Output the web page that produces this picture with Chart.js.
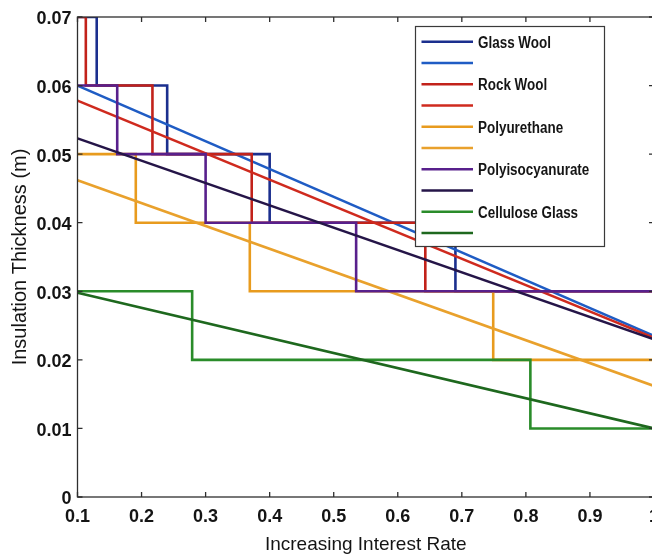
<!DOCTYPE html>
<html>
<head>
<meta charset="utf-8">
<script src="https://cdn.jsdelivr.net/npm/chart.js@4/dist/chart.umd.min.js"></script>
<style>
  html, body { margin: 0; padding: 0; background: #fff; overflow: hidden; }
  #c { display: block; }
</style>
</head>
<body>
<canvas id="c" width="668" height="559" style="width:668px;height:559px"></canvas>
<script>
// Axis tick values and their printed labels
const xTickValues = [0.1, 0.2, 0.3, 0.4, 0.5, 0.6, 0.7, 0.8, 0.9, 1.0];
const xTickLabels = ['0.1', '0.2', '0.3', '0.4', '0.5', '0.6', '0.7', '0.8', '0.9', '1'];
const yTickValues = [0, 0.01, 0.02, 0.03, 0.04, 0.05, 0.06, 0.07];
const yTickLabels = ['0', '0.01', '0.02', '0.03', '0.04', '0.05', '0.06', '0.07'];

// Ends of the interest-rate range used by the continuous curves
const rateEnds = [0.1, 1.0];

// Stepped thickness (m): rate where each step starts, thickness held from there on
const glassWoolRates = [0.1, 0.13, 0.24, 0.40, 0.69, 1.0];
const glassWoolSteps = [0.07, 0.06, 0.05, 0.04, 0.03, 0.03];
const rockWoolRates = [0.1, 0.113, 0.217, 0.372, 0.643, 1.0];
const rockWoolSteps = [0.07, 0.06, 0.05, 0.04, 0.03, 0.03];
const polyurethaneRates = [0.1, 0.191, 0.369, 0.749, 1.0];
const polyurethaneSteps = [0.05, 0.04, 0.03, 0.02, 0.02];
const polyisoRates = [0.1, 0.162, 0.300, 0.535, 1.0];
const polyisoSteps = [0.06, 0.05, 0.04, 0.03, 0.03];
const celluloseRates = [0.1, 0.279, 0.807, 1.0];
const celluloseSteps = [0.03, 0.02, 0.01, 0.01];

// Continuous optimum thickness (m) at the two ends of the rate range
const glassWoolCurve = [0.0600, 0.0235];
const rockWoolCurve = [0.0578, 0.0232];
const polyurethaneCurve = [0.0462, 0.0162];
const polyisoCurve = [0.0523, 0.0230];
const celluloseCurve = [0.0298, 0.0100];

const pts = (xs, ys) => xs.map((x, i) => ({ x, y: ys[i] }));

// Each step value is held until the next rate, then drops vertically
function stepSet(label, xs, ys, color) {
  return { label, data: pts(xs, ys), borderColor: color, stepped: 'before',
           borderWidth: 2.6, pointRadius: 0, fill: false };
}
function curveSet(ys, color) {
  return { label: '', data: pts(rateEnds, ys), borderColor: color,
           borderWidth: 2.6, pointRadius: 0, fill: false, tension: 0 };
}

const datasets = [
  stepSet('Glass Wool', glassWoolRates, glassWoolSteps, '#1b2f8e'),
  curveSet(glassWoolCurve, '#1f5cc4'),
  stepSet('Rock Wool', rockWoolRates, rockWoolSteps, '#c2221a'),
  curveSet(rockWoolCurve, '#cf2a1e'),
  stepSet('Polyurethane', polyurethaneRates, polyurethaneSteps, '#e89b1e'),
  curveSet(polyurethaneCurve, '#e9a12c'),
  stepSet('Polyisocyanurate', polyisoRates, polyisoSteps, '#58208c'),
  curveSet(polyisoCurve, '#251548'),
  stepSet('Cellulose Glass', celluloseRates, celluloseSteps, '#2a8c2a'),
  curveSet(celluloseCurve, '#1e681e')
];
// Later series are painted over earlier ones
datasets.forEach((ds, i) => { ds.order = -i; });

// Box around the plot with inward tick marks on all four sides
const boxAxes = {
  id: 'boxAxes',
  afterDatasetsDraw(chart) {
    const { ctx, chartArea: { left, right, top, bottom }, scales: { x, y } } = chart;
    ctx.save();
    ctx.strokeStyle = '#2e2e2e';
    ctx.lineWidth = 1.3;
    ctx.strokeRect(left, top, right - left, bottom - top);
    ctx.beginPath();
    xTickValues.forEach(v => {
      const px = x.getPixelForValue(v);
      ctx.moveTo(px, bottom); ctx.lineTo(px, bottom - 5);
      ctx.moveTo(px, top); ctx.lineTo(px, top + 5);
    });
    yTickValues.forEach(v => {
      const py = y.getPixelForValue(v);
      ctx.moveTo(left, py); ctx.lineTo(left + 5, py);
      ctx.moveTo(right, py); ctx.lineTo(right - 5, py);
    });
    ctx.stroke();
    ctx.restore();
  }
};

// Boxed legend inside the plot, one row per dataset
const boxLegend = {
  id: 'boxLegend',
  afterDraw(chart) {
    const ctx = chart.ctx;
    const bx = 415.5, by = 26.5, bw = 189, bh = 220;
    ctx.save();
    ctx.fillStyle = '#fff';
    ctx.fillRect(bx, by, bw, bh);
    ctx.strokeStyle = '#3a3a3a';
    ctx.lineWidth = 1.2;
    ctx.strokeRect(bx, by, bw, bh);
    chart.data.datasets.forEach((ds, i) => {
      const ry = 41.7 + i * 21.26;
      ctx.strokeStyle = ds.borderColor;
      ctx.lineWidth = 2.6;
      ctx.beginPath();
      ctx.moveTo(421.5, ry);
      ctx.lineTo(473, ry);
      ctx.stroke();
      if (ds.label) {
        ctx.save();
        ctx.translate(478, ry + 5.8);
        ctx.scale(0.84, 1);
        ctx.font = 'bold 16px "Liberation Sans", Arial, sans-serif';
        ctx.fillStyle = '#151515';
        ctx.textBaseline = 'alphabetic';
        ctx.fillText(ds.label, 0, 0);
        ctx.restore();
      }
    });
    ctx.restore();
  }
};

const tickFont = { family: '"Liberation Sans", Arial, sans-serif', size: 18, weight: 'bold' };

new Chart(document.getElementById('c'), {
  type: 'line',
  data: { datasets },
  options: {
    responsive: false,
    animation: false,
    devicePixelRatio: 1,
    events: [],
    layout: { padding: { top: 17, right: 0, bottom: 0, left: 0 } },
    plugins: { legend: { display: false }, tooltip: { enabled: false } },
    scales: {
      x: {
        type: 'linear', min: 0.1, max: 1.0,
        afterBuildTicks: s => { s.ticks = xTickValues.map(v => ({ value: v })); },
        afterFit: s => { s.height = 62; },
        grid: { display: false, drawTicks: false },
        border: { display: false },
        ticks: {
          callback: (v, i) => xTickLabels[i], autoSkip: false, maxRotation: 0,
          font: tickFont, color: '#141414', padding: 9
        },
        title: {
          display: true, text: 'Increasing Interest Rate', color: '#141414',
          font: { family: '"Liberation Sans", Arial, sans-serif', size: 19 },
          padding: { top: 0, bottom: 2.5 }
        }
      },
      y: {
        type: 'linear', min: 0, max: 0.07,
        afterBuildTicks: s => { s.ticks = yTickValues.map(v => ({ value: v })); },
        afterFit: s => { s.width = 77.5; },
        grid: { display: false, drawTicks: false },
        border: { display: false },
        ticks: {
          callback: (v, i) => yTickLabels[i], autoSkip: false,
          font: tickFont, color: '#141414', padding: 6, labelOffset: 2.5
        },
        title: {
          display: true, text: 'Insulation Thickness (m)', color: '#141414',
          font: { family: '"Liberation Sans", Arial, sans-serif', size: 20 },
          padding: { top: 8.4, bottom: 0 }
        }
      }
    }
  },
  plugins: [boxAxes, boxLegend]
});
</script>
</body>
</html>
